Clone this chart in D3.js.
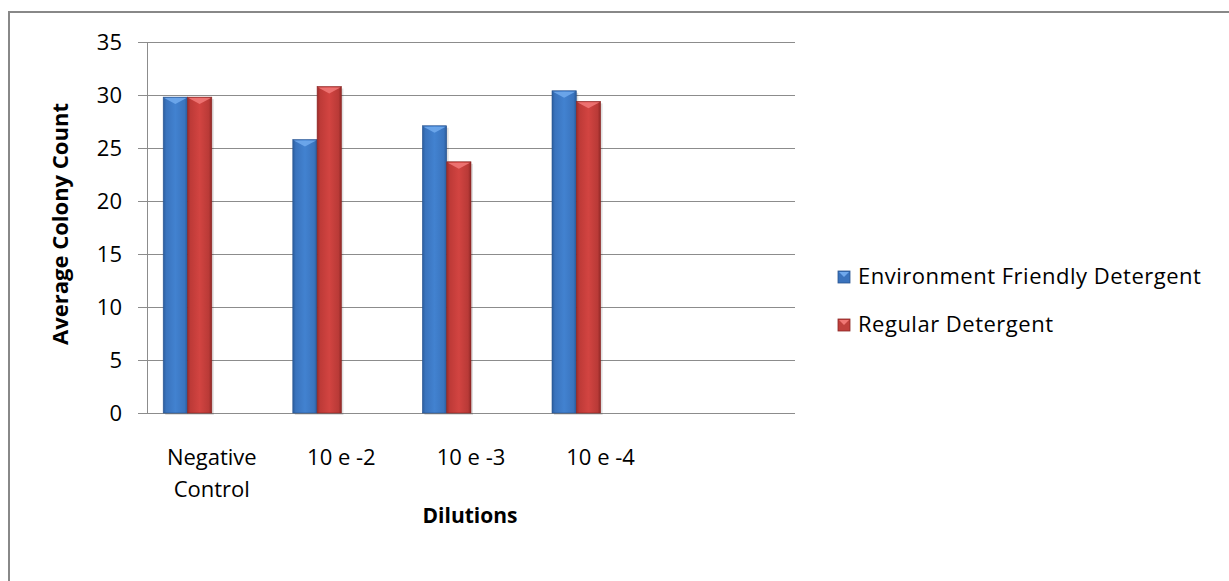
<!DOCTYPE html>
<html><head><meta charset="utf-8">
<script src="https://cdn.jsdelivr.net/npm/d3@7"></script>
<style>body{margin:0;background:#fff}svg{display:block}text{font-family:"Open Sans",Lato,sans-serif;fill:#000}</style>
</head><body><svg id="c" width="1229" height="581"></svg>
<script>
const categories = ["Negative Control", "10 e -2", "10 e -3", "10 e -4", ""];
const seriesNames = ["Environment Friendly Detergent", "Regular Detergent"];
const envFriendly = [29.8, 25.8, 27.1, 30.4, null];
const regular = [29.8, 30.8, 23.7, 29.4, null];
const yTicks = [0, 5, 10, 15, 20, 25, 30, 35];

const svg = d3.select("#c");
const m = {l: 147, r: 795, t: 42, b: 413};
const FONT = "'Open Sans', Lato, sans-serif";

// outer border (extends beyond right/bottom)
svg.append("rect").attr("x", 9).attr("y", 12).attr("width", 1240).attr("height", 600)
  .attr("fill", "none").attr("stroke", "#888").attr("stroke-width", 2);

const defs = svg.append("defs");
function grad(id, stops) {
  const g = defs.append("linearGradient").attr("id", id).attr("x1", "0").attr("x2", "1").attr("y1", "0").attr("y2", "0");
  stops.forEach(([o, c]) => g.append("stop").attr("offset", o).attr("stop-color", c));
}
grad("gBlue", [[0, "#2b5d9c"], [0.12, "#3a73bd"], [0.5, "#4282d0"], [0.88, "#3a74be"], [1, "#2a5a98"]]);
grad("gRed", [[0, "#9a2c2a"], [0.12, "#bd3a37"], [0.5, "#d24441"], [0.88, "#b93a37"], [1, "#8f2725"]]);
const topCol = ["#6fa8ec", "#f07775"];
const edgeCol = ["#2a5490", "#8a2624"];
const legCol = ["#3a73bd", "#c0403d"];

const x0 = d3.scaleBand().domain(categories.map((d, i) => i)).range([m.l, m.r]).paddingInner(0.25).paddingOuter(0.125);
const x1 = d3.scaleBand().domain([0, 1, 2, 3]).range([0, x0.bandwidth()]);
const y = d3.scaleLinear().domain([0, 35]).range([m.b, m.t]);

// gridlines
svg.append("g").selectAll("line").data(yTicks).join("line")
  .attr("x1", m.l).attr("x2", m.r).attr("y1", d => y(d)).attr("y2", d => y(d))
  .attr("stroke", "#8c8c8c").attr("stroke-width", 1).attr("shape-rendering", "crispEdges");

// y axis
const yAxis = svg.append("g").attr("transform", `translate(${m.l},0)`)
  .call(d3.axisLeft(y).tickValues(yTicks).tickSize(9).tickPadding(16));
yAxis.select(".domain").attr("stroke", "#8c8c8c").attr("shape-rendering", "crispEdges");
yAxis.selectAll(".tick line").attr("stroke", "#8c8c8c").attr("shape-rendering", "crispEdges");
yAxis.selectAll(".tick text").attr("font-size", 22).style("font-family", FONT).attr("fill", "#222");

// bars
const series = [envFriendly, regular];
const gradIds = ["gBlue", "gRed"];
series.forEach((vals, s) => {
  const g = svg.append("g");
  vals.forEach((v, i) => {
    if (v == null) return;
    const bx = x0(i) + x1(s), bw = x1.bandwidth(), by = y(v), bh = y(0) - y(v);
    g.append("rect").attr("x", bx + 2).attr("y", by + 2).attr("width", bw).attr("height", bh)
      .attr("fill", "#000").attr("opacity", 0.12);
    g.append("rect").attr("x", bx).attr("y", by).attr("width", bw).attr("height", bh)
      .attr("fill", `url(#${gradIds[s]})`).attr("stroke", edgeCol[s]).attr("stroke-width", 0.6);
    g.append("path").attr("d", `M${bx + 1},${by + 1}L${bx + bw - 1},${by + 1}L${bx + bw / 2},${by + 7}Z`)
      .attr("fill", topCol[s]).attr("opacity", 0.9);
  });
});

// x labels
const xl = svg.append("g");
categories.forEach((c, i) => {
  const words = c === "Negative Control" ? ["Negative", "Control"] : [c];
  const cx = x0(i) + x0.bandwidth() / 2;
  const t = xl.append("text").attr("x", cx).attr("y", 465)
    .attr("text-anchor", "middle").attr("font-size", 22).attr("fill", "#222");
  words.forEach((w, k) => t.append("tspan").attr("x", cx).attr("dy", k ? 32 : 0).text(w));
});

// axis titles
svg.append("text").attr("x", 470).attr("y", 523).attr("text-anchor", "middle")
  .attr("font-size", 21).attr("font-weight", "bold").text("Dilutions");
svg.append("text").attr("transform", "translate(68,224) rotate(-90)").attr("text-anchor", "middle")
  .attr("font-size", 22).attr("font-weight", "bold").text("Average Colony Count");

// legend
const lg = svg.append("g");
seriesNames.forEach((n, i) => {
  const ly = 277 + i * 48;
  lg.append("rect").attr("x", 838).attr("y", ly - 6).attr("width", 12).attr("height", 12)
    .attr("fill", legCol[i]).attr("stroke", edgeCol[i]).attr("stroke-width", 0.8);
  lg.append("path").attr("d", `M839,${ly - 5}L849,${ly - 5}L844,${ly}Z`).attr("fill", topCol[i]);
  lg.append("text").attr("x", 858).attr("y", ly + 7).attr("font-size", 22)
    .attr("letter-spacing", 0.5).attr("fill", "#222").text(n);
});
</script></body></html>
